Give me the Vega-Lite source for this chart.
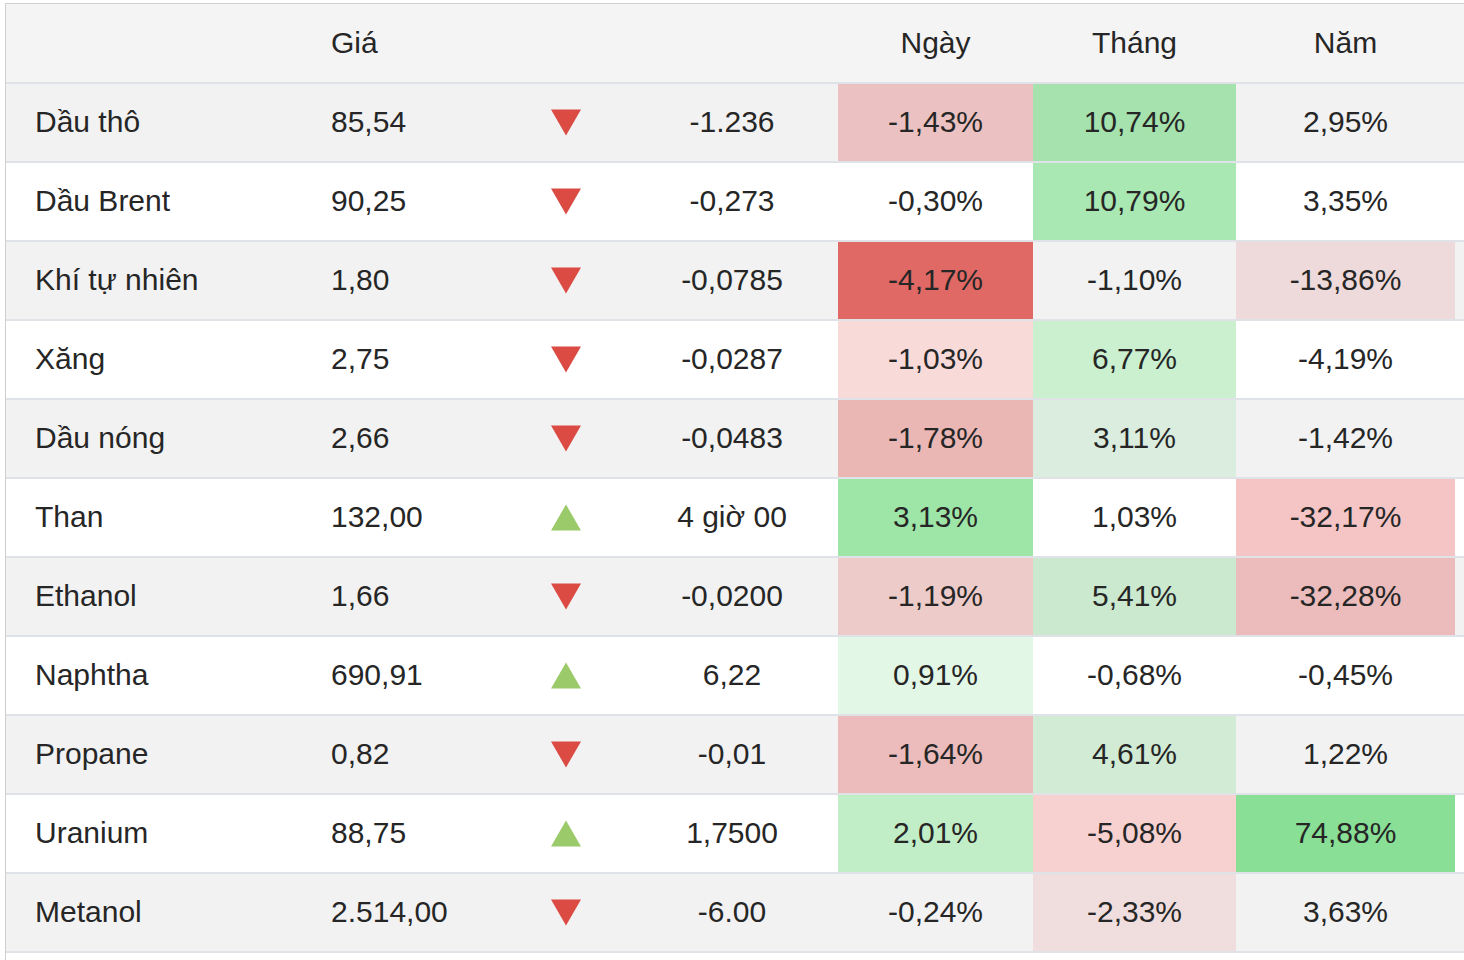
{
  "$schema": "https://vega.github.io/schema/vega-lite/v6.json",
  "background": "white",
  "padding": {"left": 5, "top": 3, "right": 0, "bottom": 0},
  "spacing": 0,
  "bounds": "flush",
  "config": {
    "view": {"stroke": null, "fill": "#f4f4f4"},
    "concat": {"spacing": 0},
    "locale": {"number": {"decimal": ",", "thousands": ".", "grouping": [3], "currency": ["", ""], "minus": "-"}},
    "text": {"font": "Liberation Sans", "fontSize": 30, "color": "#262626", "baseline": "middle"}
  },
  "datasets": {
    "rows": [
      {"name": "Dầu thô", "price": 85.54, "dir": "down", "change": "-1.236", "day": -0.0143, "month": 0.1074, "year": 0.0295},
      {"name": "Dầu Brent", "price": 90.25, "dir": "down", "change": "-0,273", "day": -0.0030, "month": 0.1079, "year": 0.0335},
      {"name": "Khí tự nhiên", "price": 1.80, "dir": "down", "change": "-0,0785", "day": -0.0417, "month": -0.0110, "year": -0.1386},
      {"name": "Xăng", "price": 2.75, "dir": "down", "change": "-0,0287", "day": -0.0103, "month": 0.0677, "year": -0.0419},
      {"name": "Dầu nóng", "price": 2.66, "dir": "down", "change": "-0,0483", "day": -0.0178, "month": 0.0311, "year": -0.0142},
      {"name": "Than", "price": 132.00, "dir": "up", "change": "4 giờ 00", "day": 0.0313, "month": 0.0103, "year": -0.3217},
      {"name": "Ethanol", "price": 1.66, "dir": "down", "change": "-0,0200", "day": -0.0119, "month": 0.0541, "year": -0.3228},
      {"name": "Naphtha", "price": 690.91, "dir": "up", "change": "6,22", "day": 0.0091, "month": -0.0068, "year": -0.0045},
      {"name": "Propane", "price": 0.82, "dir": "down", "change": "-0,01", "day": -0.0164, "month": 0.0461, "year": 0.0122},
      {"name": "Uranium", "price": 88.75, "dir": "up", "change": "1,7500", "day": 0.0201, "month": -0.0508, "year": 0.7488},
      {"name": "Metanol", "price": 2514.00, "dir": "down", "change": "-6.00", "day": -0.0024, "month": -0.0233, "year": 0.0363}
    ],
    "headers": [
      {"name": "_h", "col": "price", "label": "Giá"},
      {"name": "_h", "col": "day", "label": "Ngày"},
      {"name": "_h", "col": "month", "label": "Tháng"},
      {"name": "_h", "col": "year", "label": "Năm"}
    ]
  },
  "vconcat": [
    {"data": {"values": [{}]}, "width": 1459, "height": 1, "mark": {"type": "rect", "color": "#cfcfcf"}, "encoding": {}},
    {
      "bounds": "flush",
      "spacing": 0,
      "resolve": {"scale": {"color": "independent", "fill": "independent", "opacity": "independent", "shape": "independent", "x": "independent", "y": "independent"}},
      "hconcat": [
        {"data": {"values": [{}]}, "width": 1, "height": 956, "mark": {"type": "rect", "color": "#cfcfcf"}, "encoding": {}},
        {
          "width": 29, "height": 948, "data": {"name": "rows"},
          "layer": [
            {"mark": "rect", "encoding": {"y": {"field": "name", "type": "nominal", "scale": {"domain": ["_h","Dầu thô","Dầu Brent","Khí tự nhiên","Xăng","Dầu nóng","Than","Ethanol","Naphtha","Propane","Uranium","Metanol"], "paddingInner": 0, "paddingOuter": 0}, "axis": null}, "fill": {"field": "name", "type": "nominal", "scale": {"domain": ["Dầu thô","Dầu Brent","Khí tự nhiên","Xăng","Dầu nóng","Than","Ethanol","Naphtha","Propane","Uranium","Metanol"], "range": ["#f2f2f2","#ffffff","#f2f2f2","#ffffff","#f2f2f2","#ffffff","#f2f2f2","#ffffff","#f2f2f2","#ffffff","#f2f2f2"]}, "legend": null}}},
            {"mark": {"type": "rule", "color": "#dfe3e8", "strokeWidth": 2}, "encoding": {"y": {"field": "name", "type": "nominal", "bandPosition": 0, "axis": null}}},
            {"mark": {"type": "rule", "color": "#dfe3e8", "strokeWidth": 2}, "encoding": {"y": {"field": "name", "type": "nominal", "bandPosition": 1, "axis": null}}}
          ]
        },
        {
          "width": 296, "height": 948, "data": {"name": "rows"},
          "layer": [
            {"mark": "rect", "encoding": {"y": {"field": "name", "type": "nominal", "scale": {"domain": ["_h","Dầu thô","Dầu Brent","Khí tự nhiên","Xăng","Dầu nóng","Than","Ethanol","Naphtha","Propane","Uranium","Metanol"], "paddingInner": 0, "paddingOuter": 0}, "axis": null}, "fill": {"field": "name", "type": "nominal", "scale": {"domain": ["Dầu thô","Dầu Brent","Khí tự nhiên","Xăng","Dầu nóng","Than","Ethanol","Naphtha","Propane","Uranium","Metanol"], "range": ["#f2f2f2","#ffffff","#f2f2f2","#ffffff","#f2f2f2","#ffffff","#f2f2f2","#ffffff","#f2f2f2","#ffffff","#f2f2f2"]}, "legend": null}}},
            {"mark": {"type": "rule", "color": "#dfe3e8", "strokeWidth": 2}, "encoding": {"y": {"field": "name", "type": "nominal", "bandPosition": 0, "axis": null}}},
            {"mark": {"type": "rule", "color": "#dfe3e8", "strokeWidth": 2}, "encoding": {"y": {"field": "name", "type": "nominal", "bandPosition": 1, "axis": null}}},
            {"mark": {"type": "text", "align": "left"}, "encoding": {"x": {"datum": 0, "type": "quantitative", "scale": {"domain": [0, 1]}, "axis": null}, "y": {"field": "name", "type": "nominal", "axis": null}, "text": {"field": "name", "type": "nominal"}}}
          ]
        },
        {
          "width": 175, "height": 948, "data": {"name": "rows"},
          "layer": [
            {"mark": "rect", "encoding": {"y": {"field": "name", "type": "nominal", "scale": {"domain": ["_h","Dầu thô","Dầu Brent","Khí tự nhiên","Xăng","Dầu nóng","Than","Ethanol","Naphtha","Propane","Uranium","Metanol"], "paddingInner": 0, "paddingOuter": 0}, "axis": null}, "fill": {"field": "name", "type": "nominal", "scale": {"domain": ["Dầu thô","Dầu Brent","Khí tự nhiên","Xăng","Dầu nóng","Than","Ethanol","Naphtha","Propane","Uranium","Metanol"], "range": ["#f2f2f2","#ffffff","#f2f2f2","#ffffff","#f2f2f2","#ffffff","#f2f2f2","#ffffff","#f2f2f2","#ffffff","#f2f2f2"]}, "legend": null}}},
            {"mark": {"type": "rule", "color": "#dfe3e8", "strokeWidth": 2}, "encoding": {"y": {"field": "name", "type": "nominal", "bandPosition": 0, "axis": null}}},
            {"mark": {"type": "rule", "color": "#dfe3e8", "strokeWidth": 2}, "encoding": {"y": {"field": "name", "type": "nominal", "bandPosition": 1, "axis": null}}},
            {"mark": {"type": "text", "align": "left"}, "encoding": {"x": {"datum": 0, "type": "quantitative", "scale": {"domain": [0, 1]}, "axis": null}, "y": {"field": "name", "type": "nominal", "axis": null}, "text": {"field": "price", "type": "quantitative", "format": ",.2f"}}},
            {"data": {"name": "headers"}, "transform": [{"filter": "datum.col === 'price'"}], "mark": {"type": "text", "align": "left"}, "encoding": {"x": {"datum": 0, "type": "quantitative", "axis": null}, "y": {"field": "name", "type": "nominal", "axis": null}, "text": {"field": "label", "type": "nominal"}}}
          ]
        },
        {
          "width": 120, "height": 948, "data": {"name": "rows"},
          "layer": [
            {"mark": "rect", "encoding": {"y": {"field": "name", "type": "nominal", "scale": {"domain": ["_h","Dầu thô","Dầu Brent","Khí tự nhiên","Xăng","Dầu nóng","Than","Ethanol","Naphtha","Propane","Uranium","Metanol"], "paddingInner": 0, "paddingOuter": 0}, "axis": null}, "fill": {"field": "name", "type": "nominal", "scale": {"domain": ["Dầu thô","Dầu Brent","Khí tự nhiên","Xăng","Dầu nóng","Than","Ethanol","Naphtha","Propane","Uranium","Metanol"], "range": ["#f2f2f2","#ffffff","#f2f2f2","#ffffff","#f2f2f2","#ffffff","#f2f2f2","#ffffff","#f2f2f2","#ffffff","#f2f2f2"]}, "legend": null}}},
            {"mark": {"type": "rule", "color": "#dfe3e8", "strokeWidth": 2}, "encoding": {"y": {"field": "name", "type": "nominal", "bandPosition": 0, "axis": null}}},
            {"mark": {"type": "rule", "color": "#dfe3e8", "strokeWidth": 2}, "encoding": {"y": {"field": "name", "type": "nominal", "bandPosition": 1, "axis": null}}},
            {"mark": {"type": "point", "filled": true, "size": 900, "opacity": 1, "strokeWidth": 0}, "encoding": {"y": {"field": "name", "type": "nominal", "axis": null}, "shape": {"field": "dir", "type": "nominal", "scale": {"domain": ["down", "up"], "range": ["triangle-down", "triangle-up"]}, "legend": null}, "color": {"field": "dir", "type": "nominal", "scale": {"domain": ["down", "up"], "range": ["#db4a43", "#9bca6a"]}, "legend": null}}}
          ]
        },
        {
          "width": 212, "height": 948, "data": {"name": "rows"},
          "layer": [
            {"mark": "rect", "encoding": {"y": {"field": "name", "type": "nominal", "scale": {"domain": ["_h","Dầu thô","Dầu Brent","Khí tự nhiên","Xăng","Dầu nóng","Than","Ethanol","Naphtha","Propane","Uranium","Metanol"], "paddingInner": 0, "paddingOuter": 0}, "axis": null}, "fill": {"field": "name", "type": "nominal", "scale": {"domain": ["Dầu thô","Dầu Brent","Khí tự nhiên","Xăng","Dầu nóng","Than","Ethanol","Naphtha","Propane","Uranium","Metanol"], "range": ["#f2f2f2","#ffffff","#f2f2f2","#ffffff","#f2f2f2","#ffffff","#f2f2f2","#ffffff","#f2f2f2","#ffffff","#f2f2f2"]}, "legend": null}}},
            {"mark": {"type": "rule", "color": "#dfe3e8", "strokeWidth": 2}, "encoding": {"y": {"field": "name", "type": "nominal", "bandPosition": 0, "axis": null}}},
            {"mark": {"type": "rule", "color": "#dfe3e8", "strokeWidth": 2}, "encoding": {"y": {"field": "name", "type": "nominal", "bandPosition": 1, "axis": null}}},
            {"mark": {"type": "text", "align": "center"}, "encoding": {"y": {"field": "name", "type": "nominal", "axis": null}, "text": {"field": "change", "type": "nominal"}}}
          ]
        },
        {
          "width": 195, "height": 948, "data": {"name": "rows"},
          "layer": [
            {"mark": "rect", "encoding": {"y": {"field": "name", "type": "nominal", "scale": {"domain": ["_h","Dầu thô","Dầu Brent","Khí tự nhiên","Xăng","Dầu nóng","Than","Ethanol","Naphtha","Propane","Uranium","Metanol"], "paddingInner": 0, "paddingOuter": 0}, "axis": null}, "fill": {"field": "name", "type": "nominal", "scale": {"domain": ["Dầu thô","Dầu Brent","Khí tự nhiên","Xăng","Dầu nóng","Than","Ethanol","Naphtha","Propane","Uranium","Metanol"], "range": ["#f2f2f2","#ffffff","#f2f2f2","#ffffff","#f2f2f2","#ffffff","#f2f2f2","#ffffff","#f2f2f2","#ffffff","#f2f2f2"]}, "legend": null}}},
            {"mark": "rect", "encoding": {"y": {"field": "name", "type": "nominal", "axis": null}, "color": {"field": "day", "type": "quantitative", "scale": {"type": "threshold", "domain": [0], "range": ["#dc4b46", "#62d472"]}, "legend": null}, "opacity": {"field": "day", "type": "quantitative", "scale": {"domain": [-0.05, -0.005, -0.0049, 0.0049, 0.005, 0.05], "range": [0.98, 0.1, 0, 0, 0.1, 0.98], "clamp": true}, "legend": null}}},
            {"mark": {"type": "rule", "color": "#dfe3e8", "strokeWidth": 2}, "encoding": {"y": {"field": "name", "type": "nominal", "bandPosition": 0, "axis": null}}},
            {"mark": {"type": "rule", "color": "#dfe3e8", "strokeWidth": 2}, "encoding": {"y": {"field": "name", "type": "nominal", "bandPosition": 1, "axis": null}}},
            {"mark": {"type": "text", "align": "center"}, "encoding": {"y": {"field": "name", "type": "nominal", "axis": null}, "text": {"field": "day", "type": "quantitative", "format": ".2%"}}},
            {"data": {"name": "headers"}, "transform": [{"filter": "datum.col === 'day'"}], "mark": {"type": "text", "align": "center"}, "encoding": {"y": {"field": "name", "type": "nominal", "axis": null}, "text": {"field": "label", "type": "nominal"}}}
          ]
        },
        {
          "width": 203, "height": 948, "data": {"name": "rows"},
          "layer": [
            {"mark": "rect", "encoding": {"y": {"field": "name", "type": "nominal", "scale": {"domain": ["_h","Dầu thô","Dầu Brent","Khí tự nhiên","Xăng","Dầu nóng","Than","Ethanol","Naphtha","Propane","Uranium","Metanol"], "paddingInner": 0, "paddingOuter": 0}, "axis": null}, "fill": {"field": "name", "type": "nominal", "scale": {"domain": ["Dầu thô","Dầu Brent","Khí tự nhiên","Xăng","Dầu nóng","Than","Ethanol","Naphtha","Propane","Uranium","Metanol"], "range": ["#f2f2f2","#ffffff","#f2f2f2","#ffffff","#f2f2f2","#ffffff","#f2f2f2","#ffffff","#f2f2f2","#ffffff","#f2f2f2"]}, "legend": null}}},
            {"mark": "rect", "encoding": {"y": {"field": "name", "type": "nominal", "axis": null}, "color": {"field": "month", "type": "quantitative", "scale": {"type": "threshold", "domain": [0], "range": ["#dc4b46", "#62d472"]}, "legend": null}, "opacity": {"field": "month", "type": "quantitative", "scale": {"domain": [-0.2, -0.02, -0.0199, 0.0199, 0.02, 0.2], "range": [1, 0.1, 0, 0, 0.1, 1], "clamp": true}, "legend": null}}},
            {"mark": {"type": "rule", "color": "#dfe3e8", "strokeWidth": 2}, "encoding": {"y": {"field": "name", "type": "nominal", "bandPosition": 0, "axis": null}}},
            {"mark": {"type": "rule", "color": "#dfe3e8", "strokeWidth": 2}, "encoding": {"y": {"field": "name", "type": "nominal", "bandPosition": 1, "axis": null}}},
            {"mark": {"type": "text", "align": "center"}, "encoding": {"y": {"field": "name", "type": "nominal", "axis": null}, "text": {"field": "month", "type": "quantitative", "format": ".2%"}}},
            {"data": {"name": "headers"}, "transform": [{"filter": "datum.col === 'month'"}], "mark": {"type": "text", "align": "center"}, "encoding": {"y": {"field": "name", "type": "nominal", "axis": null}, "text": {"field": "label", "type": "nominal"}}}
          ]
        },
        {
          "width": 219, "height": 948, "data": {"name": "rows"},
          "layer": [
            {"mark": "rect", "encoding": {"y": {"field": "name", "type": "nominal", "scale": {"domain": ["_h","Dầu thô","Dầu Brent","Khí tự nhiên","Xăng","Dầu nóng","Than","Ethanol","Naphtha","Propane","Uranium","Metanol"], "paddingInner": 0, "paddingOuter": 0}, "axis": null}, "fill": {"field": "name", "type": "nominal", "scale": {"domain": ["Dầu thô","Dầu Brent","Khí tự nhiên","Xăng","Dầu nóng","Than","Ethanol","Naphtha","Propane","Uranium","Metanol"], "range": ["#f2f2f2","#ffffff","#f2f2f2","#ffffff","#f2f2f2","#ffffff","#f2f2f2","#ffffff","#f2f2f2","#ffffff","#f2f2f2"]}, "legend": null}}},
            {"mark": "rect", "encoding": {"y": {"field": "name", "type": "nominal", "axis": null}, "color": {"field": "year", "type": "quantitative", "scale": {"type": "threshold", "domain": [0], "range": ["#dc4b46", "#62d472"]}, "legend": null}, "opacity": {"field": "year", "type": "quantitative", "scale": {"domain": [-1, -0.05, -0.0499, 0.0499, 0.05, 1], "range": [1, 0.05, 0, 0, 0.05, 1], "clamp": true}, "legend": null}}},
            {"mark": {"type": "rule", "color": "#dfe3e8", "strokeWidth": 2}, "encoding": {"y": {"field": "name", "type": "nominal", "bandPosition": 0, "axis": null}}},
            {"mark": {"type": "rule", "color": "#dfe3e8", "strokeWidth": 2}, "encoding": {"y": {"field": "name", "type": "nominal", "bandPosition": 1, "axis": null}}},
            {"mark": {"type": "text", "align": "center"}, "encoding": {"y": {"field": "name", "type": "nominal", "axis": null}, "text": {"field": "year", "type": "quantitative", "format": ".2%"}}},
            {"data": {"name": "headers"}, "transform": [{"filter": "datum.col === 'year'"}], "mark": {"type": "text", "align": "center"}, "encoding": {"y": {"field": "name", "type": "nominal", "axis": null}, "text": {"field": "label", "type": "nominal"}}}
          ]
        },
        {
          "width": 9, "height": 948, "data": {"name": "rows"},
          "layer": [
            {"mark": "rect", "encoding": {"y": {"field": "name", "type": "nominal", "scale": {"domain": ["_h","Dầu thô","Dầu Brent","Khí tự nhiên","Xăng","Dầu nóng","Than","Ethanol","Naphtha","Propane","Uranium","Metanol"], "paddingInner": 0, "paddingOuter": 0}, "axis": null}, "fill": {"field": "name", "type": "nominal", "scale": {"domain": ["Dầu thô","Dầu Brent","Khí tự nhiên","Xăng","Dầu nóng","Than","Ethanol","Naphtha","Propane","Uranium","Metanol"], "range": ["#f2f2f2","#ffffff","#f2f2f2","#ffffff","#f2f2f2","#ffffff","#f2f2f2","#ffffff","#f2f2f2","#ffffff","#f2f2f2"]}, "legend": null}}},
            {"mark": {"type": "rule", "color": "#dfe3e8", "strokeWidth": 2}, "encoding": {"y": {"field": "name", "type": "nominal", "bandPosition": 0, "axis": null}}},
            {"mark": {"type": "rule", "color": "#dfe3e8", "strokeWidth": 2}, "encoding": {"y": {"field": "name", "type": "nominal", "bandPosition": 1, "axis": null}}}
          ]
        }
      ]
    }
  ]
}
